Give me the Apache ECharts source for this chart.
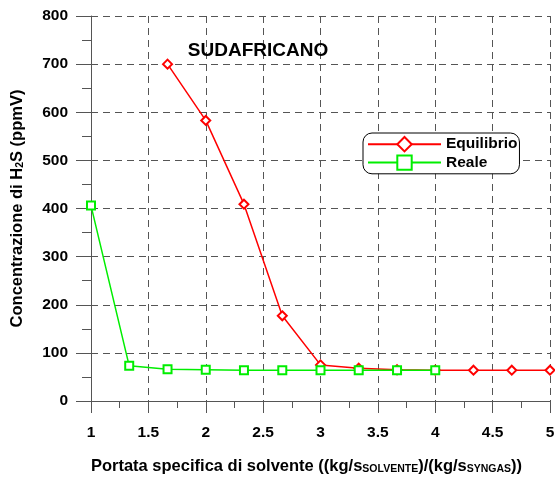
<!DOCTYPE html>
<html>
<head>
<meta charset="utf-8">
<script src="https://cdn.jsdelivr.net/npm/echarts@6/dist/echarts.min.js"></script>
<style>
  html, body { margin: 0; padding: 0; background: #fff; }
  #chart { width: 555px; height: 477px; }
</style>
</head>
<body>
<div id="chart"></div>
<script>
// dati
var xEquilibrio = [1.667, 2, 2.333, 2.667, 3, 3.333, 3.667, 4, 4.333, 4.667, 5];
var yEquilibrio = [700, 583, 409, 177, 75, 68, 65, 64, 64, 64, 64];
var xReale = [1, 1.333, 1.667, 2, 2.333, 2.667, 3, 3.333, 3.667, 4];
var yReale = [406, 73, 66, 65, 64, 64, 64, 64, 64, 64];
var seriesNames = ['Equilibrio', 'Reale'];
var titolo = 'SUDAFRICANO';

function pairs(xs, ys) {
    return xs.map(function (x, i) { return [x, ys[i]]; });
}

var font = '"Liberation Sans", Arial, sans-serif';
var gridLine = { show: true, lineStyle: { color: '#555', type: [7, 5], width: 1 } };
var nameRich = {
    b: { fontSize: 16.5, fontWeight: 'bold', color: '#000', fontFamily: font },
    s: { fontSize: 10.5, fontWeight: 'bold', color: '#000', fontFamily: font, verticalAlign: 'bottom', padding: [7, 0, 0, 0] }
};

var chart = echarts.init(document.getElementById('chart'));
chart.setOption({
    animation: false,
    backgroundColor: '#fff',
    textStyle: { fontFamily: font },
    title: {
        text: titolo,
        left: 253, top: 36, textAlign: 'center',
        textStyle: { fontSize: 19, fontWeight: 'bold', color: '#000', fontFamily: font }
    },
    legend: {
        data: seriesNames,
        orient: 'vertical',
        left: 363, top: 133,
        padding: [3, 2, 3, 4],
        itemWidth: 73, itemHeight: 18, itemGap: 2,
        borderColor: '#000', borderWidth: 1, borderRadius: 9,
        backgroundColor: '#fff',
        textStyle: { fontSize: 15.5, fontWeight: 'bold', color: '#000', fontFamily: font }
    },
    grid: { left: 91, right: 5, top: 16, bottom: 76, outerBoundsMode: 'none' },
    xAxis: {
        type: 'value', min: 1, max: 5, interval: 0.5,
        name: '{b|Portata specifica di solvente ((kg/s}{s|SOLVENTE}{b|)/(kg/s}{s|SYNGAS}{b|))}',
        nameLocation: 'middle', nameGap: 56,
        nameTextStyle: { rich: nameRich, padding: [0, 28, 0, 0] },
        axisLine: { show: true, onZero: false, lineStyle: { color: '#555', width: 1 } },
        axisTick: { show: true, length: 12, lineStyle: { color: '#555' } },
        minorTick: { show: true, splitNumber: 2, length: 7, lineStyle: { color: '#555' } },
        axisLabel: { margin: 24, fontSize: 15.5, fontWeight: 'bold', color: '#000', fontFamily: font },
        splitLine: gridLine
    },
    yAxis: {
        type: 'value', min: 0, max: 800, interval: 100,
        name: '{b|Concentrazione di H}{s|2}{b|S (ppmV)}',
        nameLocation: 'middle', nameGap: 65,
        nameTextStyle: { rich: nameRich },
        axisLine: { show: true, lineStyle: { color: '#555', width: 1 } },
        axisTick: { show: true, length: 15, lineStyle: { color: '#555' } },
        minorTick: { show: true, splitNumber: 2, length: 9, lineStyle: { color: '#555' } },
        axisLabel: { margin: 23, fontSize: 15.5, fontWeight: 'bold', color: '#000', fontFamily: font },
        splitLine: gridLine
    },
    series: [
        {
            name: seriesNames[0], type: 'line',
            data: pairs(xEquilibrio, yEquilibrio),
            symbol: 'emptyDiamond', symbolSize: 9,
            color: '#ff0000',
            lineStyle: { color: '#ff0000', width: 1.5 },
            itemStyle: { color: '#ff0000', borderWidth: 1.5 },
            z: 3
        },
        {
            name: seriesNames[1], type: 'line',
            data: pairs(xReale, yReale),
            symbol: 'emptyRect', symbolSize: 8,
            color: '#00ee00',
            lineStyle: { color: '#00ee00', width: 1.5 },
            itemStyle: { color: '#00ee00', borderWidth: 1.5 },
            z: 4
        }
    ]
});
</script>
</body>
</html>
